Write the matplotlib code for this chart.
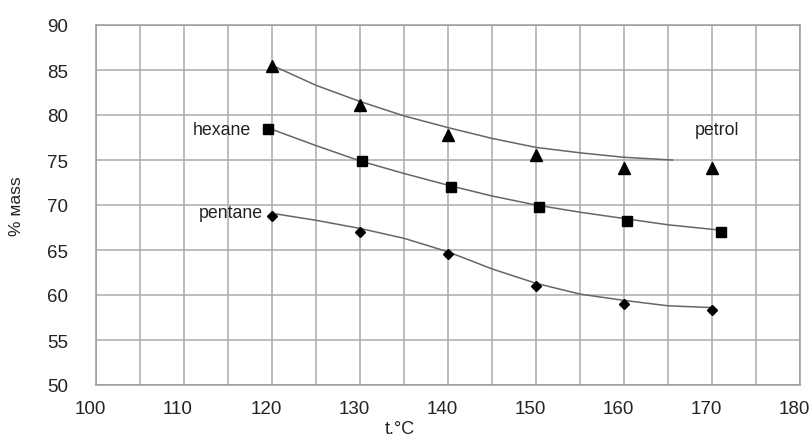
import matplotlib
matplotlib.use("Agg")
import matplotlib.pyplot as plt
import matplotlib.transforms as mtransforms

plt.rcParams['font.family'] = ['Liberation Sans', 'DejaVu Sans']

# measured points
temp = [120, 130, 140, 150, 160, 170]
petrol = [85.5, 81.1, 77.8, 75.6, 74.1, 74.1]
hexane_t = [119.5, 130.2, 140.3, 150.3, 160.3, 171.0]
hexane = [78.4, 74.9, 72.0, 69.8, 68.2, 67.0]
pentane = [68.8, 67.0, 64.6, 61.0, 59.0, 58.3]

# trend lines
petrol_line_t = [120.5, 125, 130, 135, 140, 145, 150, 155, 160, 165.5]
petrol_line = [85.3, 83.3, 81.5, 79.9, 78.6, 77.4, 76.4, 75.8, 75.3, 75.0]
hexane_line_t = [120, 125, 130, 135, 140, 145, 150, 155, 160, 165, 170.5]
hexane_line = [78.4, 76.6, 74.9, 73.5, 72.2, 71.0, 70.0, 69.2, 68.5, 67.8, 67.25]
pentane_line_t = [120.5, 125, 130, 135, 140, 145, 150, 155, 160, 165, 170]
pentane_line = [69.0, 68.3, 67.4, 66.3, 64.8, 62.9, 61.3, 60.1, 59.4, 58.8, 58.6]

x_ticks = [100, 110, 120, 130, 140, 150, 160, 170, 180]
y_ticks = [50, 55, 60, 65, 70, 75, 80, 85, 90]

fig = plt.figure(figsize=(8.09, 4.39), dpi=100)
ax = fig.add_axes([96/809, 1-386/439, 704/809, 360/439])

ax.set_xlim(100, 180)
ax.set_ylim(50, 90)
ax.set_xticks(x_ticks)
ax.set_yticks(y_ticks)
ax.set_xticks(range(105, 180, 10), minor=True)
ax.grid(True, which='both', color='#ababab', linewidth=1.1)
ax.set_axisbelow(True)
for s in ax.spines.values():
    s.set_color('#9a9a9a')
    s.set_linewidth(1.1)
ax.tick_params(axis='both', which='both', length=0, labelsize=13.5, colors='#222222')
ax.tick_params(axis='y', pad=20)
ax.tick_params(axis='x', pad=11)

shift = mtransforms.ScaledTranslation(-6/100, 0, fig.dpi_scale_trans)
for lab in ax.get_xticklabels():
    lab.set_transform(lab.get_transform() + shift)

lc = '#666666'
ax.plot(petrol_line_t, petrol_line, color=lc, lw=1.1)
ax.plot(hexane_line_t, hexane_line, color=lc, lw=1.1)
ax.plot(pentane_line_t, pentane_line, color=lc, lw=1.1)

ax.plot(temp, petrol, linestyle='none', marker='^', ms=9, color='black')
ax.plot(hexane_t, hexane, linestyle='none', marker='s', ms=6.5, color='black')
ax.plot(temp, pentane, linestyle='none', marker='D', ms=5, color='black')

ax.text(117.6, 78.4, 'hexane', ha='right', va='center', fontsize=12.8, color='#222222')
ax.text(119.0, 69.2, 'pentane', ha='right', va='center', fontsize=12.8, color='#222222')
ax.text(170.6, 78.4, 'petrol', ha='center', va='center', fontsize=12.8, color='#222222')

ax.set_xlabel('t.°C', fontsize=13, color='#222222')
ax.xaxis.set_label_coords(0.432, -0.097)
ax.set_ylabel('% мass', fontsize=12.5, color='#222222')
ax.yaxis.set_label_coords(-0.102, 0.5)

fig.savefig('out.png', dpi=100)
